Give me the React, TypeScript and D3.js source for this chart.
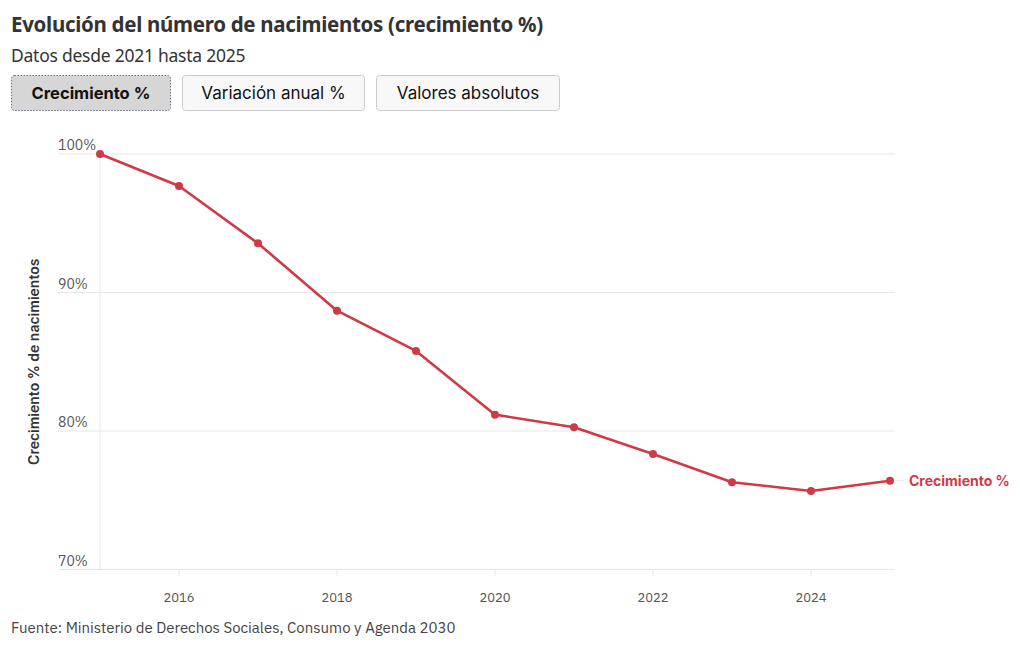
import React, { useEffect, useRef } from "react";
import * as d3 from "d3";

const years: number[] = [2015, 2016, 2017, 2018, 2019, 2020, 2021, 2022, 2023, 2024, 2025];
const growth: number[] = [100, 97.69, 93.55, 88.69, 85.78, 81.18, 80.27, 78.34, 76.3, 75.67, 76.41];
const yTicks: number[] = [70, 80, 90, 100];
const xTicks: number[] = [2016, 2018, 2020, 2022, 2024];
const buttons: string[] = ["Crecimiento %", "Variación anual %", "Valores absolutos"];

const title = "Evolución del número de nacimientos (crecimiento %)";
const subtitle = "Datos desde 2021 hasta 2025";
const source = "Fuente: Ministerio de Derechos Sociales, Consumo y Agenda 2030";
const seriesName = "Crecimiento %";
const yTitle = "Crecimiento % de nacimientos";

const W = 1020;
const H = 648;
const RED = "#cf3a46";
const HEAD_FONT = "'Source Sans Pro', 'Noto Sans', 'Open Sans', sans-serif";
const UI_FONT = "Inter, Roboto, sans-serif";
const AXIS_FONT = "'IBM Plex Sans', 'Open Sans', sans-serif";

export default function App() {
  const ref = useRef<SVGSVGElement | null>(null);

  useEffect(() => {
    const svg = d3.select(ref.current);
    svg.selectAll("*").remove();

    const x = d3.scaleLinear().domain([2015, 2025]).range([100, 890]);
    const y = d3.scaleLinear().domain([70, 100]).range([569.5, 154]);

    // Header
    svg.append("text").attr("x", 11).attr("y", 32)
      .attr("font-family", HEAD_FONT).attr("font-weight", 700).attr("font-size", 20.5)
      .attr("letter-spacing", -0.3).attr("fill", "#333").text(title);
    svg.append("text").attr("x", 11).attr("y", 62)
      .attr("font-family", HEAD_FONT).attr("font-size", 17.5).attr("letter-spacing", -0.25)
      .attr("fill", "#333").text(subtitle);

    // Toggle buttons
    const btnX = [11, 182, 376];
    const btnW = [160, 183, 184];
    buttons.forEach((b, i) => {
      const g = svg.append("g").attr("transform", `translate(${btnX[i]},75)`);
      g.append("rect").attr("x", 0.5).attr("y", 0.5).attr("width", btnW[i] - 1).attr("height", 35)
        .attr("rx", 3).attr("fill", i === 0 ? "#d6d6d6" : "#f8f8f8")
        .attr("stroke", i === 0 ? "#6a6a7a" : "#cccccc")
        .attr("stroke-dasharray", i === 0 ? "1.5,1.5" : null);
      g.append("text").attr("x", btnW[i] / 2).attr("y", 24)
        .attr("text-anchor", "middle").attr("font-family", UI_FONT)
        .attr("font-size", i === 0 ? 16.5 : 17).attr("font-weight", i === 0 ? 700 : 400)
        .attr("fill", "#111").text(b);
    });

    // Grid
    const grid = svg.append("g");
    yTicks.forEach((t) => {
      grid.append("line").attr("x1", 58).attr("x2", 895)
        .attr("y1", y(t)).attr("y2", y(t)).attr("stroke", "#e6e6e6");
      grid.append("text").attr("x", 58).attr("y", y(t) - 4)
        .attr("font-family", AXIS_FONT).attr("font-size", 14).attr("fill", "#555")
        .text(`${t}%`);
    });
    grid.append("line").attr("x1", 100).attr("x2", 100)
      .attr("y1", y(100)).attr("y2", y(70)).attr("stroke", "#e6e6e6");

    xTicks.forEach((t) => {
      grid.append("line").attr("x1", x(t)).attr("x2", x(t))
        .attr("y1", y(70)).attr("y2", y(70) + 7).attr("stroke", "#e6e6e6");
      grid.append("text").attr("x", x(t)).attr("y", 602)
        .attr("text-anchor", "middle").attr("font-family", AXIS_FONT)
        .attr("font-size", 13).attr("fill", "#555").text(String(t));
    });

    svg.append("text")
      .attr("transform", `translate(39,${(y(100) + y(70)) / 2}) rotate(-90)`)
      .attr("text-anchor", "middle").attr("font-family", UI_FONT)
      .attr("font-size", 14).attr("font-weight", 600).attr("fill", "#333")
      .text(yTitle);

    // Series
    const data = years.map((yr, i) => ({ yr, v: growth[i] }));
    const line = d3.line<{ yr: number; v: number }>().x((d) => x(d.yr)).y((d) => y(d.v));
    svg.append("path").datum(data).attr("d", line).attr("fill", "none")
      .attr("stroke", RED).attr("stroke-width", 2.6).attr("stroke-linejoin", "round");
    svg.append("g").selectAll("circle").data(data).join("circle")
      .attr("cx", (d) => x(d.yr)).attr("cy", (d) => y(d.v)).attr("r", 4).attr("fill", RED);

    const last = data[data.length - 1];
    svg.append("line").attr("x1", x(last.yr) + 5).attr("x2", x(last.yr) + 14)
      .attr("y1", y(last.v)).attr("y2", y(last.v)).attr("stroke", "#e6e6e6");
    svg.append("text").attr("x", 909).attr("y", y(last.v) + 5)
      .attr("font-family", UI_FONT).attr("font-size", 14).attr("font-weight", 700)
      .attr("fill", RED).text(seriesName);

    svg.append("text").attr("x", 11).attr("y", 633)
      .attr("font-family", AXIS_FONT).attr("font-size", 15).attr("fill", "#444")
      .text(source);
  }, []);

  return (
    <svg ref={ref} width={W} height={H}
      style={{ position: "absolute", left: 0, top: 0, background: "#fff" }} />
  );
}
